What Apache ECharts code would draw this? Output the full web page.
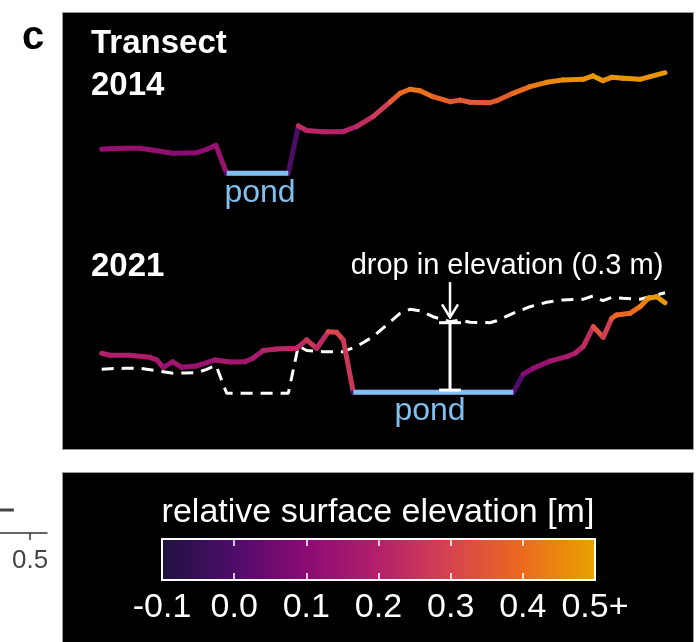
<!DOCTYPE html>
<html><head><meta charset="utf-8">
<script src="https://cdn.jsdelivr.net/npm/echarts@6/dist/echarts.min.js"></script>
<style>html,body{margin:0;padding:0;background:#fff}#c{width:697px;height:642px}</style>
</head><body><div id="c"></div>
<script>
// distance along transect (arbitrary units 0-100) and relative surface elevation [m]
const dist2014 = [0.30,1.77,4.42,7.08,10.04,12.92,15.04,17.12,18.88,20.53,22.42,33.33,35.10,36.58,39.47,43.01,45.43,48.32,51.33,53.10,54.87,56.64,58.94,61.95,63.72,65.49,69.03,70.21,73.10,76.11,79.06,81.95,85.49,87.26,89.03,90.57,92.57,95.58,97.35,100.00];
const elev2014 = [0.120,0.123,0.125,0.125,0.113,0.100,0.102,0.103,0.120,0.140,0.000,0.000,0.237,0.214,0.208,0.208,0.234,0.283,0.356,0.400,0.420,0.413,0.383,0.358,0.366,0.355,0.353,0.363,0.400,0.433,0.455,0.467,0.470,0.487,0.463,0.480,0.475,0.470,0.483,0.503];
const dist2021 = [0.30,1.77,5.31,8.85,10.04,11.20,12.87,14.46,17.12,20.35,23.01,25.66,27.13,28.90,31.27,34.81,36.58,38.35,40.41,41.89,43.06,44.83,73.15,74.92,76.69,79.65,82.60,84.07,85.54,87.31,89.08,90.57,91.45,93.81,95.58,97.04,98.53,100.00];
const elev2021 = [0.200,0.190,0.190,0.180,0.167,0.130,0.157,0.130,0.137,0.167,0.157,0.158,0.176,0.214,0.221,0.225,0.267,0.225,0.308,0.305,0.267,0.005,0.005,0.096,0.125,0.161,0.183,0.200,0.234,0.333,0.280,0.375,0.392,0.400,0.433,0.475,0.483,0.453];
const pond2014 = [22.42, 33.33], pondLevel2014 = 0.0;
const pond2021 = [44.83, 73.15], pondLevel2021 = 0.005;
const dropX = 61.95, dropTop = 0.353, dropBottom = 0.016;
const arrowTop = 0.556, arrowTip = 0.380;
const cbTicks = [-0.1, 0.0, 0.1, 0.2, 0.3, 0.4, 0.5];
const cbLabels = ['-0.1', '0.0', '0.1', '0.2', '0.3', '0.4', '0.5+'];
const cbColors = ['#1f1340', '#4e0c69', '#8b0b73', '#b3206b', '#d6444f', '#eb6a1e', '#e9a200'];
const sideTicks = [0.5];

const FONT = '"Liberation Sans", Arial, sans-serif';
const POND = '#80bfee';

function segs(xs, ys) {
  const out = [];
  for (let i = 0; i < xs.length - 1; i++) out.push([xs[i], ys[i], xs[i + 1], ys[i + 1]]);
  return out;
}
function segItem(params, api) {
  const p0 = api.coord([api.value(0), api.value(1)]);
  const p1 = api.coord([api.value(2), api.value(3)]);
  return { type: 'line', shape: { x1: p0[0], y1: p0[1], x2: p1[0], y2: p1[1] },
    style: { stroke: api.visual('color'), lineWidth: 5, lineCap: 'round', fill: null } };
}
function cbLabel(v) {
  const i = cbTicks.findIndex(t => Math.abs(t - v) < 1e-6);
  return i >= 0 ? cbLabels[i] : '';
}
function txt(text, x, y, size, color, weight, align) {
  return { type: 'text', x: x, y: y, z: 100,
    style: { text: text, font: (weight || 'normal') + ' ' + size + 'px ' + FONT, fill: color,
      align: align || 'left', verticalAlign: 'middle', textAlign: align || 'left', textVerticalAlign: 'middle' } };
}

const chart = echarts.init(document.getElementById('c'), null, { renderer: 'canvas' });
const hiddenX = (g) => ({ type: 'value', gridIndex: g, min: 0, max: 100, show: false });
const hiddenY = (g) => ({ type: 'value', gridIndex: g, min: -0.1, max: 0.6, show: false });

chart.setOption({
  backgroundColor: '#fff',
  animation: false,
  grid: [
    { left: 100, top: 53.3, width: 565, height: 140 },
    { left: 100, top: 273.3, width: 565, height: 140 },
    { left: 162, top: 539, width: 433, height: 41, show: true, borderColor: '#fff', borderWidth: 2,
      backgroundColor: 'rgba(0,0,0,0)', z: 10 },
    { left: 0, top: 500, width: 47, height: 33 }
  ],
  xAxis: [
    hiddenX(0), hiddenX(1),
    { type: 'value', gridIndex: 2, min: -0.1, max: 0.5, interval: 0.1, z: 10,
      axisLine: { show: false }, splitLine: { show: false },
      axisTick: { show: true, inside: true, length: 7, lineStyle: { color: '#fff', width: 1.5 },
        customValues: cbTicks.slice(1, -1) },
      axisLabel: { color: '#fff', fontSize: 34, fontFamily: FONT, margin: 11, formatter: cbLabel,
        showMinLabel: true, showMaxLabel: true } },
    { type: 'value', gridIndex: 2, position: 'top', min: -0.1, max: 0.5, interval: 0.1, z: 10,
      axisLine: { show: false }, splitLine: { show: false }, axisLabel: { show: false },
      axisTick: { show: true, inside: true, length: 7, lineStyle: { color: '#fff', width: 1.5 },
        customValues: cbTicks.slice(1, -1) } },
    { type: 'value', gridIndex: 3, min: 0, max: 0.78, splitLine: { show: false },
      axisLine: { show: true, lineStyle: { color: '#333', width: 1.5 } },
      axisTick: { show: true, length: 7, lineStyle: { color: '#333', width: 1.5 }, customValues: sideTicks },
      axisLabel: { color: '#444', fontSize: 26, fontFamily: FONT, margin: 15, customValues: sideTicks,
        formatter: v => v.toFixed(1) } }
  ],
  yAxis: [
    hiddenY(0), hiddenY(1),
    { type: 'value', gridIndex: 2, min: 0, max: 1, show: false },
    { type: 'value', gridIndex: 3, min: 0, max: 1, show: false }
  ],
  visualMap: [{
    type: 'continuous', min: -0.1, max: 0.5, dimension: 1, seriesIndex: [0, 1],
    inRange: { color: cbColors }, orient: 'horizontal', left: 162, top: 539,
    itemWidth: 41, itemHeight: 433, calculable: false, hoverLink: false, padding: 0, z: 4
  }],
  series: [
    { type: 'custom', name: '2014', xAxisIndex: 0, yAxisIndex: 0, z: 3,
      dimensions: ['x0', 'y0', 'x1', 'y1'], encode: { x: [0, 2], y: [1, 3] },
      data: segs(dist2014, elev2014), renderItem: segItem },
    { type: 'custom', name: '2021', xAxisIndex: 1, yAxisIndex: 1, z: 3,
      dimensions: ['x0', 'y0', 'x1', 'y1'], encode: { x: [0, 2], y: [1, 3] },
      data: segs(dist2021, elev2021), renderItem: segItem },
    { type: 'line', name: '2014 (dashed)', xAxisIndex: 1, yAxisIndex: 1, z: 2, showSymbol: false,
      data: dist2014.map((d, i) => [d, elev2014[i]]),
      lineStyle: { color: '#fff', width: 3, type: [12, 8] } },
    { type: 'line', name: 'pond 2014', xAxisIndex: 0, yAxisIndex: 0, z: 4, showSymbol: false,
      data: [[pond2014[0], pondLevel2014], [pond2014[1], pondLevel2014]],
      lineStyle: { color: POND, width: 5 } },
    { type: 'line', name: 'pond 2021', xAxisIndex: 1, yAxisIndex: 1, z: 4, showSymbol: false,
      data: [[pond2021[0], pondLevel2021], [pond2021[1], pondLevel2021]],
      lineStyle: { color: POND, width: 5 } },
    { type: 'custom', name: 'drop', xAxisIndex: 1, yAxisIndex: 1, z: 5,
      data: [[dropX, dropTop, dropBottom]],
      renderItem: (params, api) => {
        const a = api.coord([api.value(0), api.value(1)]);
        const b = api.coord([api.value(0), api.value(2)]);
        const st = { stroke: '#fff', lineWidth: 3, fill: null };
        return { type: 'group', children: [
          { type: 'line', shape: { x1: a[0], y1: a[1], x2: b[0], y2: b[1] }, style: st },
          { type: 'line', shape: { x1: a[0] - 11, y1: a[1], x2: a[0] + 11, y2: a[1] }, style: st },
          { type: 'line', shape: { x1: b[0] - 11, y1: b[1], x2: b[0] + 11, y2: b[1] }, style: st }
        ] };
      } },
    { type: 'custom', name: 'arrow', xAxisIndex: 1, yAxisIndex: 1, z: 5,
      data: [[dropX, arrowTop, arrowTip]],
      renderItem: (params, api) => {
        const a = api.coord([api.value(0), api.value(1)]);
        const b = api.coord([api.value(0), api.value(2)]);
        const st = { stroke: '#fff', lineWidth: 2.5, fill: null };
        return { type: 'group', children: [
          { type: 'line', shape: { x1: a[0], y1: a[1], x2: b[0], y2: b[1] }, style: st },
          { type: 'polyline', shape: { points: [[b[0] - 8, b[1] - 13], [b[0], b[1]], [b[0] + 8, b[1] - 13]] }, style: st }
        ] };
      } },
    { type: 'line', name: 'side', xAxisIndex: 4, yAxisIndex: 3, showSymbol: false,
      data: [[0, 0.7], [0.23, 0.7]], lineStyle: { color: '#444', width: 3 } }
  ],
  graphic: [
    { type: 'rect', z: 0, shape: { x: 62.5, y: 12.5, width: 631, height: 437 }, style: { fill: '#000', stroke: '#999', lineWidth: 1 } },
    { type: 'rect', z: 0, shape: { x: 62.5, y: 472.5, width: 631, height: 200 }, style: { fill: '#000', stroke: '#999', lineWidth: 1 } },
    txt('c', 22, 38, 40, '#000', 'bold'),
    txt('Transect', 91, 44, 33, '#fff', 'bold'),
    txt('2014', 91, 86, 33, '#fff', 'bold'),
    txt('2021', 91, 267, 33, '#fff', 'bold'),
    txt('pond', 260, 193, 32, POND, 'normal', 'center'),
    txt('pond', 430, 411, 32, POND, 'normal', 'center'),
    txt('drop in elevation (0.3 m)', 507, 266, 29, '#fff', 'normal', 'center'),
    txt('relative surface elevation [m]', 378, 513, 34, '#fff', 'normal', 'center')
  ]
});
</script></body></html>
